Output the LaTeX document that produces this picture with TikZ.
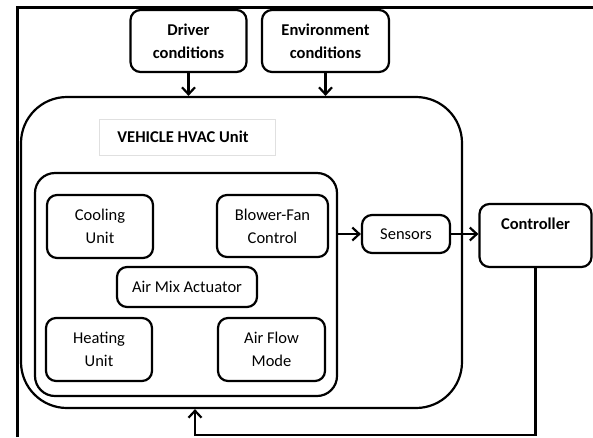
\documentclass[tikz,border=0pt]{standalone}
\usepackage{fontspec}
\setmainfont{Carlito}
\usetikzlibrary{arrows.meta}
\begin{document}
\begin{tikzpicture}[x=1pt,y=-1pt,
  txt/.style={font=\fontsize{16.5}{23}\selectfont},
  box/.style={draw, line width=2.2pt, rounded corners=10pt, inner sep=2pt,
    align=center, txt},
  bbox/.style={box, font=\fontsize{16.5}{23}\selectfont\bfseries},
  arr/.style={line width=2.2pt, -{Straight Barb[length=7pt,width=13pt,line width=2.2pt]}}
]
\useasboundingbox (0,0) rectangle (593,437);

% page frame (left and top edges)
\draw[line width=3pt] (17,437) -- (17,7.5) -- (593,7.5);

% inputs
\node[bbox, minimum width=116pt, minimum height=62pt] (drv) at (188.5,41) {Driver\\conditions};
\node[bbox, minimum width=127pt, minimum height=62pt] (env) at (325.5,41) {Environment\\conditions};

% HVAC unit
\node[draw, line width=2.2pt, rounded corners=46pt, minimum width=441pt, minimum height=311pt] (hvac) at (241.5,252.5) {};
\node[draw=black!12, line width=0.8pt, minimum width=176pt, minimum height=36pt,
  font=\fontsize{16.5}{22}\selectfont\bfseries] (title) at (187,137) {\hspace*{-8pt}VEHICLE HVAC Unit};
\node[draw, line width=2.2pt, rounded corners=20pt, minimum width=302pt, minimum height=223pt] (inner) at (186,284.5) {};

\node[box, minimum width=106pt, minimum height=63pt] (cool) at (100,226.5) {Cooling\\Unit};
\node[box, minimum width=111pt, minimum height=62pt] (blow) at (272.5,226) {Blower-Fan\\Control};
\node[box, minimum width=140pt, minimum height=40pt] (mix) at (187,287) {Air Mix Actuator};
\node[box, minimum width=106pt, minimum height=63pt] (heat) at (99,349.5) {Heating\\Unit};
\node[box, minimum width=107pt, minimum height=63pt] (flow) at (271.5,349.5) {Air Flow\\Mode};

% sensing and control
\node[box, minimum width=88pt, minimum height=38pt] (sens) at (406,234) {Sensors};
\node[box, minimum width=112pt, minimum height=63pt,
  label={[font=\fontsize{16.5}{22}\selectfont\bfseries, anchor=north, yshift=-11pt]north:Controller}] (ctrl) at (535.5,235.5) {};

% connectors
\draw[arr] (drv) -- (drv.south |- hvac.north);
\draw[arr] (env) -- (env.south |- hvac.north);
\draw[arr] (inner.east |- sens) -- (sens);
\draw[arr] (sens) -- (sens -| ctrl.west);
\coordinate (fb) at (195,435);
\draw[arr] (ctrl.south) |- (fb) -- (fb |- hvac.south);
\end{tikzpicture}
\end{document}
